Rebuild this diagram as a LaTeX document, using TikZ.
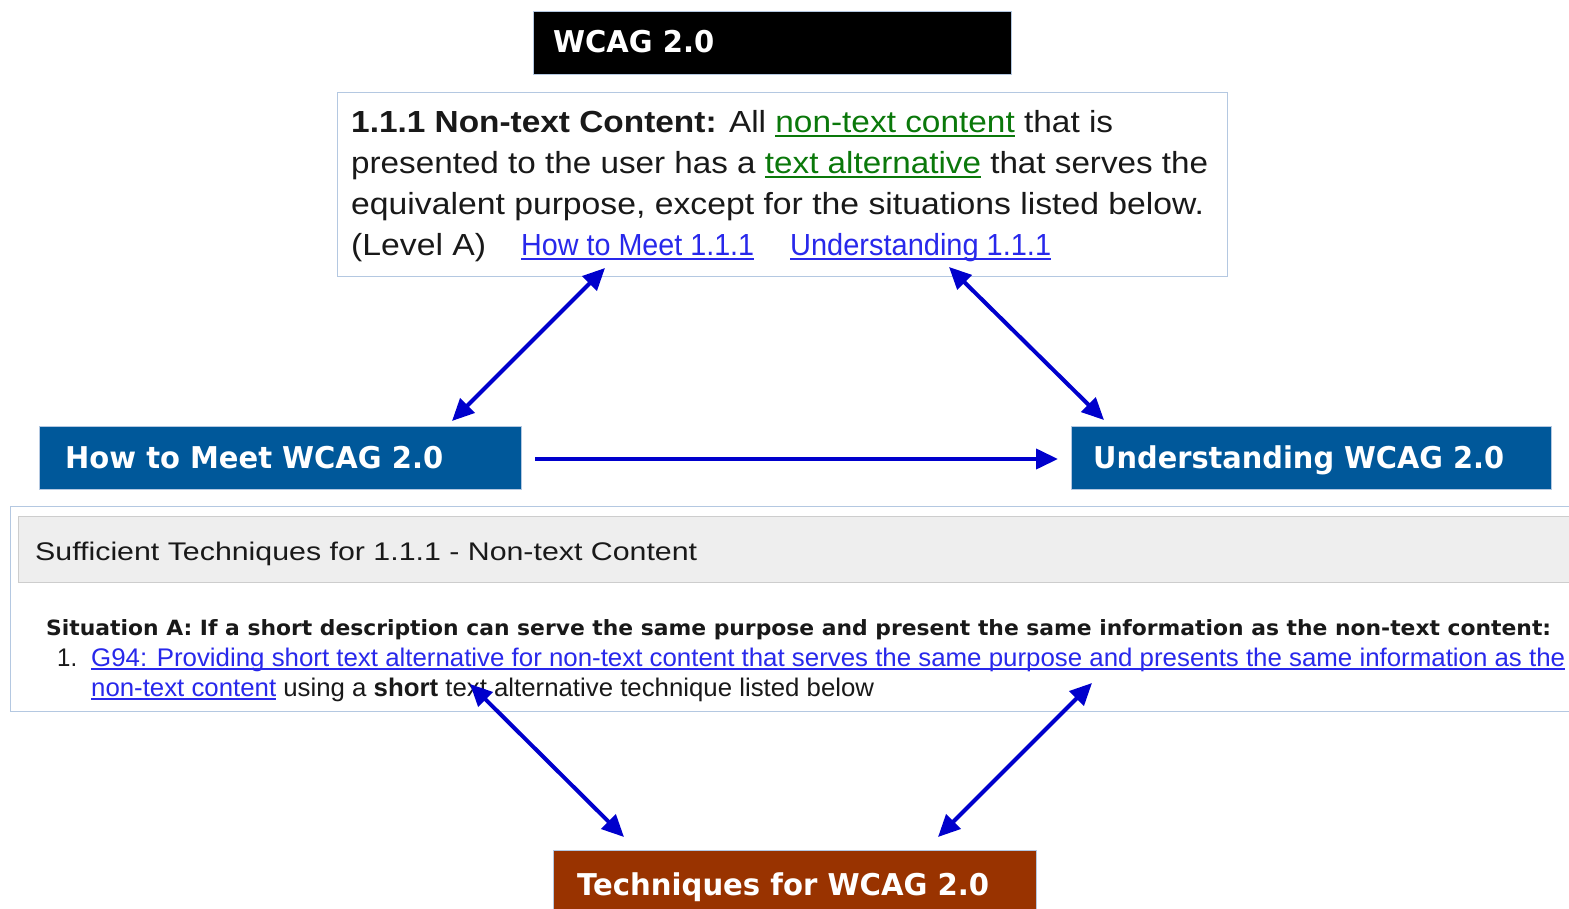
\documentclass[tikz,border=0pt]{standalone}
\usepackage{fontspec}
\setmainfont{Liberation Sans}
\newfontfamily\verd{DejaVu Sans}
\usepackage{graphicx}
\usetikzlibrary{arrows.meta}

\definecolor{wblue}{RGB}{0,88,154}
\definecolor{wbrown}{RGB}{153,51,0}
\definecolor{arrowblue}{RGB}{0,0,204}
\definecolor{linkblue}{RGB}{40,40,235}
\definecolor{defgreen}{RGB}{10,120,10}
\definecolor{boxedge}{RGB}{180,200,225}
\definecolor{bandgray}{RGB}{238,238,238}
\definecolor{bandedge}{RGB}{205,205,205}
\definecolor{txt}{RGB}{25,25,25}

\newlength\fitlen
\newcommand\fitto[2]{\settowidth\fitlen{#2}\pgfmathsetmacro\fitratio{#1/\fitlen}\scalebox{\fitratio}[1]{#2}}
\newlength\ulen
\newcommand\ulk[1]{\settowidth\ulen{#1}\rlap{\rule[-0.14em]{\ulen}{0.065em}}#1}

\tikzset{
  txtnode/.style={anchor=base west, inner sep=0pt, text=txt},
  hdr/.style={anchor=base west, inner sep=0pt, text=white, font=\verd\bfseries\fontsize{30}{36}\selectfont},
  box/.style={inner sep=0pt, line width=1pt},
  darr/.style={draw=arrowblue, line width=4pt, {Triangle[length=22pt,width=20pt]}-{Triangle[length=22pt,width=20pt]}},
  sarr/.style={draw=arrowblue, line width=4pt, -{Triangle[length=22pt,width=20pt]}},
}

\begin{document}
\begin{tikzpicture}[x=1pt,y=-1pt]
\useasboundingbox (0,0) rectangle (1569,909);
\clip (0,0) rectangle (1569,909);

% boxes
\node[box, fill=black, draw=boxedge, minimum width=478pt, minimum height=63pt] (wcag) at (772,43.5) {};
\node[box, fill=white, draw=boxedge, minimum width=890pt, minimum height=184pt] (sc) at (782,185) {};
\node[box, fill=wblue, draw=boxedge, minimum width=482pt, minimum height=63pt] (how) at (280,457.5) {};
\node[box, fill=wblue, draw=boxedge, minimum width=480pt, minimum height=63pt] (und) at (1311,457.5) {};
\node[box, fill=white, draw=boxedge, minimum width=1570pt, minimum height=205pt] (suff) at (795,608.5) {};
\node[box, fill=bandgray, draw=bandedge, minimum width=1562pt, minimum height=66pt] (band) at (799,549) {};
\node[box, fill=wbrown, draw=boxedge, minimum width=483pt, minimum height=65pt] (tech) at (794.5,882.5) {};

% header texts
\node[hdr] (wcagt) at (553,53) {\fitto{161}{WCAG 2.0}};
\node[hdr] (howt) at (65,468) {\fitto{378}{How to Meet WCAG 2.0}};
\node[hdr] (undt) at (1093,468) {\fitto{411}{Understanding WCAG 2.0}};
\node[hdr] (techt) at (577,895) {\fitto{412}{Techniques for WCAG 2.0}};

% success criterion text
\begin{scope}[every node/.style={txtnode, font=\fontsize{30.5}{36}\selectfont}]
\node (l1) at (351,133) {\fitto{762}{\textbf{1.1.1 Non-text Content:} All {\color{defgreen}\ulk{non-text content}} that is}};
\node (l2) at (351,174) {\fitto{857}{presented to the user has a {\color{defgreen}\ulk{text alternative}} that serves the}};
\node (l3) at (351,215) {\fitto{853}{equivalent purpose, except for the situations listed below.}};
\node (l4) at (351,256) {\fitto{135}{(Level A)}};
\node[text=linkblue] (howlink) at (521,256) {\fitto{233}{\ulk{How to Meet 1.1.1}}};
\node[text=linkblue] (undlink) at (790,256) {\fitto{261}{\ulk{Understanding 1.1.1}}};
\end{scope}

% sufficient techniques text
\node[txtnode, font=\fontsize{25.5}{30}\selectfont] (sufft) at (35,560) {\fitto{662}{Sufficient Techniques for 1.1.1 - Non-text Content}};
\node[txtnode, font=\verd\bfseries\fontsize{21}{26}\selectfont] (sit) at (46,635) {\fitto{1505}{Situation A: If a short description can serve the same purpose and present the same information as the non-text content:}};
\begin{scope}[every node/.style={txtnode, font=\fontsize{25.5}{30}\selectfont}]
\node (num) at (57,666) {\fitto{20}{1.}};
\node[text=linkblue] (g94) at (91,666) {\fitto{1474}{\ulk{G94: Providing short text alternative for non-text content that serves the same purpose and presents the same information as the}}};
\node (g94b) at (91,696) {\fitto{783}{{\color{linkblue}\ulk{non-text content}} using a \textbf{short} text alternative technique listed below}};
\end{scope}

% connector end points
\coordinate (a1t) at (605,268);
\coordinate (a1b) at (452,421);
\coordinate (a2t) at (949,267);
\coordinate (a2b) at (1104,420);
\coordinate (h1) at (535,459);
\coordinate (h2) at (1058,459);
\coordinate (b1t) at (470,684);
\coordinate (b1b) at (624,837);
\coordinate (b2t) at (1092,683);
\coordinate (b2b) at (938,837);

\draw[darr] (a1t) -- (a1b);
\draw[darr] (a2t) -- (a2b);
\draw[sarr] (h1) -- (h2);
\draw[darr] (b1t) -- (b1b);
\draw[darr] (b2t) -- (b2b);
\end{tikzpicture}
\end{document}
